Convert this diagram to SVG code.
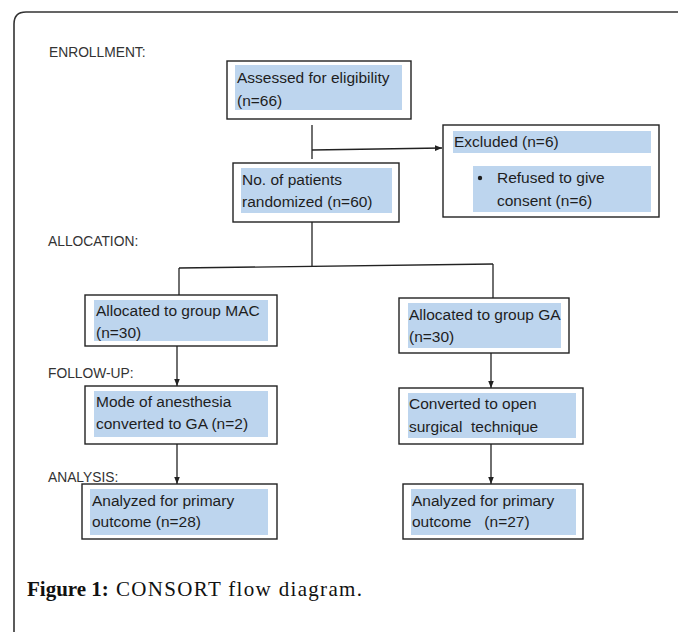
<svg xmlns="http://www.w3.org/2000/svg" width="678" height="632" viewBox="0 0 678 632">
<defs>
<style>
.box{fill:#ffffff;stroke:#222;stroke-width:1.4}
.fill{fill:#bdd5ee}
.t{font-family:"Liberation Sans",Arial,sans-serif;font-size:15.5px;fill:#1e1e1e}
.lbl{font-family:"Liberation Sans",Arial,sans-serif;font-size:13.8px;fill:#333}
.ln{fill:none;stroke:#222;stroke-width:1.3}
.cap{font-family:"Liberation Serif","Times New Roman",serif;font-size:21px;fill:#111}
</style>
<marker id="ah" viewBox="0 0 10 10" refX="10" refY="5" markerWidth="7" markerHeight="7" markerUnits="userSpaceOnUse" orient="auto">
<path d="M0,1 L10,5 L0,9 Z" fill="#222"/>
</marker>
</defs>
<rect width="678" height="632" fill="#ffffff"/>
<path d="M14,632 V24 Q14,12 26,12 H678" fill="none" stroke="#333" stroke-width="1.6"/>

<g id="stage-labels">
<text class="lbl" x="49" y="57">ENROLLMENT:</text>
<text class="lbl" x="48" y="246">ALLOCATION:</text>
<text class="lbl" x="48" y="378">FOLLOW-UP:</text>
<text class="lbl" x="48" y="482">ANALYSIS:</text>
</g>

<g id="connectors">
<line class="ln" x1="312" y1="125" x2="312" y2="159"/>
<line class="ln" x1="312" y1="150" x2="442" y2="148" marker-end="url(#ah)"/>
<line class="ln" x1="312" y1="222" x2="312" y2="266"/>
<line class="ln" x1="179" y1="268" x2="493" y2="264"/>
<line class="ln" x1="179" y1="268" x2="179" y2="295"/>
<line class="ln" x1="493" y1="264" x2="493" y2="298"/>
<line class="ln" x1="177" y1="346" x2="177" y2="386" marker-end="url(#ah)"/>
<line class="ln" x1="491" y1="353" x2="491" y2="388" marker-end="url(#ah)"/>
<line class="ln" x1="177" y1="444" x2="177" y2="484" marker-end="url(#ah)"/>
<line class="ln" x1="491" y1="444" x2="491" y2="484" marker-end="url(#ah)"/>
</g>

<g id="assessed">
<rect class="box" x="227" y="61" width="184" height="58"/>
<rect class="fill" x="235" y="65" width="167" height="45"/>
<text class="t" x="237" y="83">Assessed for eligibility</text>
<text class="t" x="237" y="106">(n=66)</text>
</g>

<g id="excluded">
<rect class="box" x="443" y="125" width="216" height="92"/>
<rect class="fill" x="453" y="131" width="198" height="22"/>
<text class="t" x="454" y="147">Excluded (n=6)</text>
<rect class="fill" x="473" y="166" width="178" height="46"/>
<circle cx="480" cy="178" r="2.2" fill="#1e1e1e"/>
<text class="t" x="497" y="183">Refused to give</text>
<text class="t" x="497" y="206">consent (n=6)</text>
</g>

<g id="randomized">
<rect class="box" x="233" y="163" width="166" height="59"/>
<rect class="fill" x="241" y="168" width="151" height="45"/>
<text class="t" x="242" y="185">No. of patients</text>
<text class="t" x="242" y="207">randomized (n=60)</text>
</g>

<g id="group-mac">
<rect class="box" x="85" y="295" width="192" height="51"/>
<rect class="fill" x="94" y="300" width="174" height="41"/>
<text class="t" x="96" y="316">Allocated to group MAC</text>
<text class="t" x="96" y="338">(n=30)</text>
</g>

<g id="group-ga">
<rect class="box" x="399" y="298" width="170" height="55"/>
<rect class="fill" x="408" y="303" width="153" height="45"/>
<text class="t" x="409" y="320">Allocated to group GA</text>
<text class="t" x="409" y="342">(n=30)</text>
</g>

<g id="mode-converted">
<rect class="box" x="85" y="386" width="192" height="58"/>
<rect class="fill" x="94" y="391" width="174" height="46"/>
<text class="t" x="96" y="407">Mode of anesthesia</text>
<text class="t" x="96" y="429">converted to GA (n=2)</text>
</g>

<g id="open-converted">
<rect class="box" x="399" y="388" width="184" height="56"/>
<rect class="fill" x="408" y="393" width="168" height="45"/>
<text class="t" x="409" y="409" xml:space="preserve">Converted to open</text>
<text class="t" x="409" y="432" xml:space="preserve">surgical  technique</text>
</g>

<g id="analyzed-mac">
<rect class="box" x="82" y="484" width="195" height="55"/>
<rect class="fill" x="90" y="489" width="178" height="46"/>
<text class="t" x="92" y="506">Analyzed for primary</text>
<text class="t" x="92" y="527">outcome (n=28)</text>
</g>

<g id="analyzed-ga">
<rect class="box" x="403" y="484" width="180" height="55"/>
<rect class="fill" x="411" y="489" width="165" height="46"/>
<text class="t" x="412" y="506">Analyzed for primary</text>
<text class="t" x="412" y="527" xml:space="preserve">outcome   (n=27)</text>
</g>

<g id="caption">
<text class="cap" x="27" y="596" font-weight="bold">Figure 1:</text>
<text class="cap" x="116" y="596" textLength="246" lengthAdjust="spacing">CONSORT flow diagram.</text>
</g>
</svg>
